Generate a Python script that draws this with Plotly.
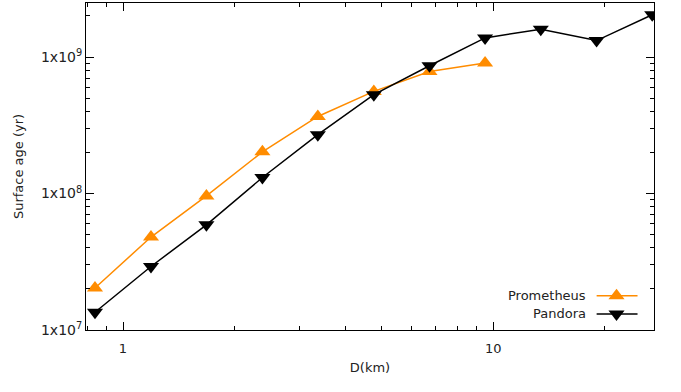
import math
import plotly.graph_objects as go

# ---- data ----
diameter_km = [0.84, 1.19, 1.68, 2.38, 3.36, 4.76, 6.73, 9.51, 13.45, 19.03, 26.9]
prometheus_age = [2.03e7, 4.8e7, 9.6e7, 2.02e8, 3.67e8, 5.6e8, 7.83e8, 9.04e8]
pandora_age = [1.35e7, 2.92e7, 5.9e7, 1.31e8, 2.7e8, 5.3e8, 8.63e8, 1.38e9, 1.6e9, 1.32e9, 2.04e9]

x_major_vals = [1, 10]
x_major_text = ["1", "10"]
x_minor_vals = [0.8, 0.9, 2, 3, 4, 5, 6, 7, 8, 9, 20]
y_major_vals = [1e7, 1e8, 1e9]
y_major_text = ["1x10<sup>7</sup>", "1x10<sup>8</sup>", "1x10<sup>9</sup>"]
y_minor_vals = [m * 10 ** e for e in (7, 8, 9) for m in range(2, 10)]

series_names = ["Prometheus", "Pandora"]
series_colors = ["#ff8c00", "#000000"]
series_symbols = ["triangle-up", "triangle-down"]

FONT = "DejaVu Sans"
FS = 13
xr = [-0.1, math.log10(27.2)]
yr = [7, 9.396]

fig = go.Figure()
fig.add_trace(go.Scatter(x=diameter_km[:len(prometheus_age)], y=prometheus_age,
                         mode="lines+markers", name=series_names[0],
                         line=dict(color=series_colors[0], width=1.5),
                         marker=dict(symbol=series_symbols[0], size=14, color=series_colors[0]),
                         showlegend=False))
fig.add_trace(go.Scatter(x=diameter_km, y=pandora_age,
                         mode="lines+markers", name=series_names[1],
                         line=dict(color=series_colors[1], width=1.5),
                         marker=dict(symbol=series_symbols[1], size=14, color=series_colors[1]),
                         showlegend=False))
# empty trace to create minor-tick overlay subplot
fig.add_trace(go.Scatter(x=[], y=[], xaxis="x2", yaxis="y2", showlegend=False))

# custom gnuplot-style legend (text, then sample)
leg_text_x = 0.884
leg_x0, leg_x1, leg_mx = 0.899, 0.971, 0.934
leg_ys = [0.105, 0.049]
for name, col, sym, ly in zip(series_names, series_colors, series_symbols, leg_ys):
    fig.add_annotation(x=leg_text_x, y=ly, xref="paper", yref="paper", text=name,
                       showarrow=False, xanchor="right", yanchor="middle",
                       font=dict(family=FONT, size=FS, color="#222"))
    fig.add_shape(type="line", xref="paper", yref="paper", x0=leg_x0, x1=leg_x1,
                  y0=ly, y1=ly, line=dict(color=col, width=1.5))
    fig.add_trace(go.Scatter(x=[leg_mx], y=[ly], xaxis="x3", yaxis="y3", mode="markers",
                             marker=dict(symbol=sym, size=14, color=col), showlegend=False,
                             hoverinfo="skip"))

axis_common = dict(showgrid=False, zeroline=False, showline=True, linecolor="black",
                   linewidth=1, mirror="ticks", ticks="inside", tickcolor="black", tickwidth=1,
                   automargin=False)

fig.update_layout(
    width=681, height=392,
    margin=dict(l=86, r=27, t=3, b=62),
    plot_bgcolor="white", paper_bgcolor="white",
    font=dict(family=FONT, size=FS, color="#222"),
    xaxis=dict(type="log", range=xr, tickvals=x_major_vals, ticktext=x_major_text,
               ticklen=8, ticklabelstandoff=6,
               title=dict(text="D(km)", standoff=8, font=dict(family=FONT, size=FS)),
               **axis_common),
    yaxis=dict(type="log", range=yr, tickvals=y_major_vals, ticktext=y_major_text,
               ticklen=8, tickfont=dict(size=14),
               title=dict(text="Surface age (yr)", standoff=14,
                          font=dict(family=FONT, size=FS)),
               **axis_common),
    xaxis2=dict(type="log", range=xr, overlaying="x", anchor="y2", tickvals=x_minor_vals,
                showticklabels=False, ticklen=4, **axis_common),
    yaxis2=dict(type="log", range=yr, overlaying="y", anchor="x2", tickvals=y_minor_vals,
                showticklabels=False, ticklen=4, **axis_common),
    xaxis3=dict(range=[0, 1], overlaying="x", anchor="y3", visible=False),
    yaxis3=dict(range=[0, 1], overlaying="y", anchor="x3", visible=False),
)

fig.write_html("out.html", config={"displayModeBar": False},
               post_script="document.body.style.margin='0';document.body.style.padding='0';")
